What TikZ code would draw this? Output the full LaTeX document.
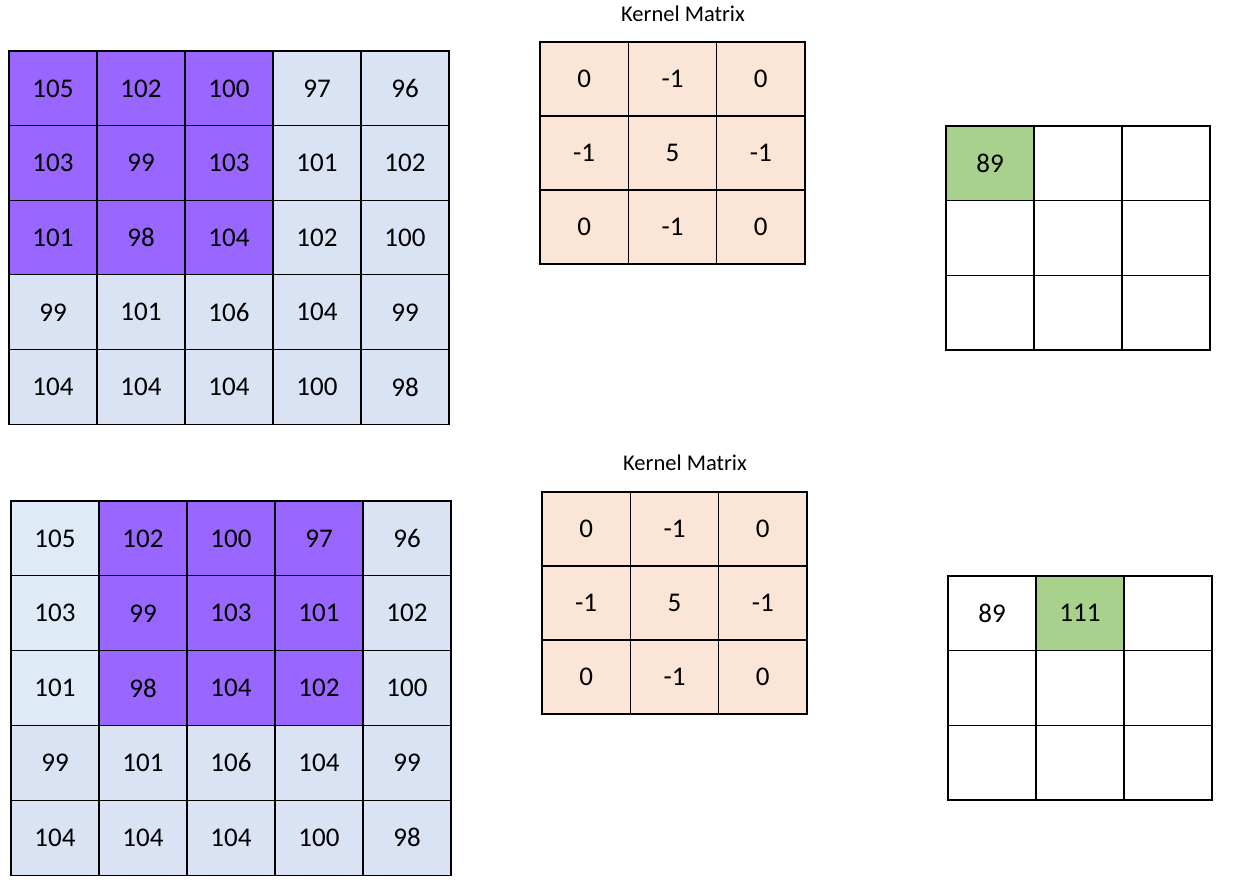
\documentclass[tikz,border=0pt]{standalone}
\usepackage{fontspec}
\setmainfont{Carlito}
\definecolor{lb}{HTML}{DAE3F3}
\definecolor{lbb}{HTML}{DEEBF7}
\definecolor{pur}{HTML}{9966FF}
\definecolor{peach}{HTML}{FBE5D6}
\definecolor{grn}{HTML}{A9D18E}
\tikzset{
  cell/.style={draw=black, line width=1.3pt, inner sep=0pt, anchor=center,
    font=\fontsize{27}{31}\selectfont},
  incell/.style={cell, minimum width=88pt, minimum height=75pt},
  kcell/.style={cell, fill=peach, minimum width=88.3pt, minimum height=74pt},
  ocell/.style={cell, fill=white, minimum width=88pt, minimum height=74.7pt},
  title/.style={font=\fontsize{22.5}{26}\selectfont, inner sep=0pt}
}
\begin{document}
\begin{tikzpicture}[x=1pt,y=-1pt]
\useasboundingbox (0,0) rectangle (1242,880);
% ---------- top input ----------
\foreach \row [count=\r from 0] in {{105,102,100,97,96},{103,99,103,101,102},{101,98,104,102,100},{99,101,106,104,99},{104,104,104,100,98}}{
  \foreach \v [count=\c from 0] in \row {
    \def\fc{lb}
    \ifnum\r<3 \ifnum\c<3 \def\fc{pur}\fi\fi
    \node[incell, fill=\fc] (A-\r-\c) at ({53+88*\c},{88.5+74.6*\r}) {\v};
  }
}
% ---------- bottom input ----------
\foreach \row [count=\r from 0] in {{105,102,100,97,96},{103,99,103,101,102},{101,98,104,102,100},{99,101,106,104,99},{104,104,104,100,98}}{
  \foreach \v [count=\c from 0] in \row {
    \def\fc{lb}
    \ifnum\r<3 \ifnum\c=0 \def\fc{lbb}\fi \ifnum\c>0 \ifnum\c<4 \def\fc{pur}\fi\fi\fi
    \node[incell, fill=\fc] (B-\r-\c) at ({55+88*\c},{538.5+74.8*\r}) {\v};
  }
}
% ---------- kernels ----------
\node[title] (KT1) at (683,14) {Kernel Matrix};
\node[title] (KT2) at (685,463) {Kernel Matrix};
\foreach \row [count=\r from 0] in {{0,-1,0},{-1,5,-1},{0,-1,0}}{
  \foreach \v [count=\c from 0] in \row {
    \node[kcell] (K-\r-\c) at ({584.2+88.3*\c},{79+74*\r}) {\v};
    \node[kcell] (L-\r-\c) at ({586.2+88.3*\c},{529+74*\r}) {\v};
  }
}
% ---------- outputs ----------
\foreach \r in {0,1,2}{
  \foreach \c in {0,1,2}{
    \node[ocell] (O-\r-\c) at ({990+88*\c},{163.3+74.7*\r}) {};
    \node[ocell] (P-\r-\c) at ({992+88*\c},{613.3+74.7*\r}) {};
  }
}
\node[ocell, fill=grn] (O-0-0g) at (O-0-0) {89};
\node[font=\fontsize{27}{31}\selectfont] (P-0-0t) at (P-0-0) {89};
\node[ocell, fill=grn] (P-0-1g) at (P-0-1) {111};
\end{tikzpicture}
\end{document}
